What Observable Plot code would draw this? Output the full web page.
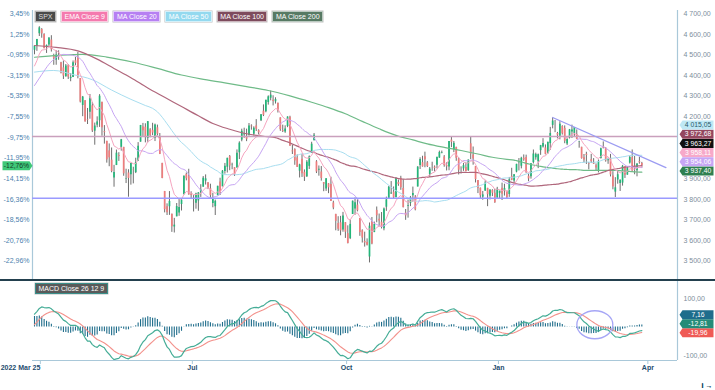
<!DOCTYPE html>
<html><head><meta charset="utf-8">
<script src="https://cdn.jsdelivr.net/npm/d3@7"></script>
<script src="https://cdn.jsdelivr.net/npm/@observablehq/plot@0.6"></script>
<style>
body{margin:0;background:#fff;font-family:"Liberation Sans",Arial,sans-serif;}
#wrap{position:relative;width:715px;height:390px;overflow:hidden;background:#fff;}
#wrap svg{position:absolute;left:0;overflow:visible;}
.legend{position:absolute;left:35px;top:10.5px;display:flex;gap:5px;}
.leg{height:9px;line-height:9px;font-size:7px;color:#fff;padding:0 2.5px;border:0.7px solid rgba(255,255,255,.6);box-shadow:0 0 0 0.5px rgba(0,0,0,.25);white-space:nowrap;}
#sep{position:absolute;left:0;top:279.3px;width:715px;height:1.5px;background:#23404e;}
</style></head><body><div id="wrap"><div id="sep"></div></div>
<script>
// ---- SPX daily candles, 2022-03-25 .. 2023-03-28 (bar index 0..252) ----
const open = [4522.9,4541.1,4602.9,4624.2,4599.0,4540.3,4548.0,4572.5,4494.2,4474.7,4494.2,4462.6,4437.6,4394.3,4449.1,4385.6,4390.6,4472.3,4489.2,4385.8,4255.3,4278.1,4186.5,4222.6,4253.8,4130.6,4159.8,4181.2,4270.4,4128.2,4081.3,4035.2,3990.1,3904.0,3963.9,4013.0,4052.0,4052.0,3899.0,3927.8,3919.4,3942.9,3929.6,3984.6,4077.4,4151.1,4149.8,4095.4,4137.6,4134.7,4096.5,4147.1,4101.7,3974.4,3838.2,3763.5,3764.1,3728.2,3665.9,3715.3,3733.9,3774.7,3821.8,3920.8,3913.0,3825.1,3786.0,3781.0,3792.6,3832.0,3858.9,3888.3,3880.9,3851.9,3779.7,3764.0,3818.0,3883.8,3860.7,3935.3,3955.5,4007.6,3965.7,3953.2,3951.4,4026.1,4087.3,4112.4,4104.2,4108.0,4154.9,4115.9,4155.9,4133.1,4181.0,4227.4,4225.0,4269.4,4290.5,4280.4,4273.1,4266.3,4195.1,4133.1,4126.6,4153.3,4198.7,4034.6,4041.3,4000.7,3936.7,3994.7,3930.9,3909.4,3959.9,4022.9,4083.7,3982.0,3940.7,3932.4,3881.0,3849.9,3875.2,3871.4,3782.4,3727.1,3682.7,3686.4,3651.9,3687.0,3633.5,3609.8,3726.5,3753.3,3772.0,3706.7,3647.5,3595.9,3590.8,3520.4,3690.4,3638.7,3746.3,3703.1,3689.1,3657.1,3762.0,3799.4,3826.0,3834.7,3808.3,3881.9,3901.8,3852.9,3733.3,3767.0,3780.7,3817.0,3810.9,3859.9,3963.7,3978.0,4006.4,3976.8,3919.3,3966.4,3956.2,3965.5,4000.3,4023.3,4005.4,3964.2,3957.2,4087.1,4040.2,4052.0,3996.6,3933.3,3947.8,3954.2,3939.3,4069.4,4015.5,3958.4,3890.9,3853.8,3810.5,3839.5,3853.3,3815.1,3843.3,3829.6,3805.5,3829.1,3853.3,3840.4,3839.7,3823.4,3910.8,3888.6,3932.4,3977.6,3960.6,3999.3,4002.3,3911.8,3909.0,3978.1,4001.7,3982.7,4036.1,4053.7,4049.3,4020.9,4070.1,4158.7,4136.7,4119.6,4105.4,4153.5,4144.3,4068.9,4096.6,4126.7,4119.5,4114.8,4077.4,4052.4,4001.8,4018.6,3973.2,3992.4,3977.2,3963.3,3938.7,3998.0,4055.2,4048.3,3987.6,3998.7,3912.8,3835.1,3894.0,3876.7,3878.9,3958.7,3917.5,3975.9,4002.0,3959.2,3939.2,3982.9,3974.1];
const high = [4546.0,4575.7,4637.3,4627.8,4603.1,4548.7,4583.5,4593.5,4503.9,4521.2,4520.4,4464.4,4471.0,4453.9,4452.8,4410.3,4471.0,4488.3,4512.9,4385.8,4299.0,4278.1,4240.7,4308.5,4269.7,4169.8,4200.1,4307.7,4270.4,4157.7,4081.3,4068.8,4049.1,3964.8,4038.9,4026.2,4090.7,4052.0,3946.0,3943.4,3975.0,3955.7,3999.3,4075.1,4158.5,4168.3,4166.5,4177.5,4142.7,4168.8,4164.9,4160.1,4119.1,3974.4,3838.2,3778.2,3837.6,3728.2,3707.7,3779.7,3801.8,3802.6,3913.7,3927.7,3945.9,3836.5,3819.0,3829.8,3832.2,3870.9,3910.6,3918.5,3880.9,3873.4,3829.4,3796.4,3863.6,3902.4,3939.8,3974.1,3999.3,4012.4,3975.3,3953.2,4039.6,4079.0,4140.2,4145.0,4140.5,4167.7,4161.3,4151.6,4186.6,4137.3,4211.0,4257.9,4280.5,4301.8,4325.3,4302.2,4292.5,4266.3,4195.1,4159.8,4156.6,4200.5,4203.0,4063.0,4045.0,4015.4,3970.2,4018.4,3942.6,3987.9,4010.5,4076.8,4119.3,3987.6,3961.9,3959.1,3881.0,3900.5,3876.0,3907.1,3790.9,3727.1,3715.7,3717.5,3736.7,3687.0,3671.4,3698.4,3791.9,3806.9,3797.9,3706.7,3652.2,3640.7,3608.3,3685.4,3712.0,3689.7,3762.8,3728.6,3736.0,3757.9,3810.7,3862.9,3886.2,3860.0,3905.4,3893.7,3911.8,3894.4,3750.6,3796.3,3813.9,3859.4,3818.2,3958.3,4001.5,4009.0,4028.8,3983.1,3954.3,3979.9,3962.0,4003.5,4033.8,4034.0,4012.3,3976.8,4080.1,4100.5,4080.5,4052.5,4001.5,3957.6,3974.2,3977.0,3990.7,4101.0,4053.8,3958.4,3890.9,3854.9,3838.2,3889.8,3853.3,3845.8,3846.7,3848.3,3858.2,3839.9,3878.5,3873.2,3839.7,3906.2,3950.6,3919.8,3970.1,3997.8,4004.0,4015.4,4014.2,3922.9,3973.0,4039.3,4023.9,4019.6,4061.6,4094.2,4063.9,4077.2,4149.0,4195.4,4182.4,4124.6,4176.5,4156.9,4156.2,4094.4,4138.9,4159.8,4148.1,4136.5,4081.5,4052.4,4017.4,4028.3,3978.3,4018.1,3997.5,3971.7,3990.8,4048.3,4078.5,4050.0,4000.4,4017.8,3934.1,3905.1,3937.3,3894.3,3964.5,3958.9,3956.6,4009.1,4039.5,4007.7,3972.7,4003.8,3979.2];
const low = [4501.1,4517.7,4589.7,4581.3,4530.4,4507.6,4539.2,4514.2,4450.0,4450.3,4474.6,4408.4,4381.3,4392.7,4381.3,4370.3,4390.6,4448.8,4384.5,4267.6,4200.8,4175.0,4162.9,4188.6,4124.3,4062.5,4147.1,4148.9,4106.0,4067.9,3975.5,3958.2,3928.8,3858.9,3963.9,3984.0,4033.9,3911.9,3876.6,3810.3,3868.9,3875.1,3925.0,3984.6,4077.4,4104.9,4073.9,4074.4,4098.7,4109.2,4080.2,4107.2,4017.2,3900.2,3734.3,3721.6,3722.3,3639.8,3636.9,3715.3,3717.7,3743.5,3821.8,3889.7,3820.1,3799.0,3738.7,3752.1,3742.1,3809.4,3858.9,3869.3,3847.2,3802.4,3759.1,3721.6,3817.2,3818.6,3860.7,3922.0,3927.6,3938.9,3943.5,3910.7,3951.4,3993.0,4079.2,4096.0,4079.8,4108.0,4135.4,4107.3,4129.0,4112.1,4177.3,4201.4,4219.8,4256.9,4277.8,4253.1,4262.0,4218.7,4129.9,4124.0,4120.0,4147.6,4057.7,4017.4,3965.2,3954.5,3903.7,3906.2,3886.8,3906.0,3944.8,4022.9,4083.7,3925.0,3912.3,3888.3,3837.1,3838.5,3827.5,3789.9,3749.4,3647.5,3644.8,3623.3,3640.6,3610.4,3584.1,3604.9,3726.5,3722.7,3739.2,3620.7,3588.1,3568.4,3573.9,3491.6,3579.7,3638.7,3686.5,3666.5,3656.4,3647.4,3741.7,3799.4,3824.1,3803.8,3808.3,3863.2,3843.8,3758.7,3698.2,3708.8,3764.7,3786.3,3744.2,3859.9,3944.8,3956.4,3953.2,3954.3,3906.5,3936.0,3933.3,3947.5,3998.7,4020.8,3955.8,3937.7,3938.6,4050.9,4026.6,3984.5,3918.4,3922.7,3935.8,3933.0,3935.3,3993.0,3965.6,3879.5,3827.9,3800.0,3795.6,3839.5,3764.5,3797.0,3813.2,3780.8,3805.5,3800.3,3794.3,3815.8,3802.4,3809.6,3890.4,3877.3,3928.5,3937.6,3947.7,3984.6,3926.6,3885.5,3897.9,3971.6,3989.8,3949.1,4013.3,4048.7,4015.6,4020.4,4037.2,4141.9,4123.4,4093.4,4088.4,4111.7,4069.7,4060.8,4092.7,4095.0,4104.0,4089.9,4048.0,3995.2,3976.9,3969.2,3943.1,3973.6,3969.0,3939.1,3928.2,3995.2,4044.6,3980.3,3969.8,3908.7,3846.3,3808.9,3873.6,3838.2,3864.1,3901.3,3916.9,3971.2,3936.2,3919.1,3909.2,3970.5,3951.5];
const close = [4543.1,4575.5,4631.6,4602.5,4530.4,4545.9,4582.6,4525.1,4481.2,4500.2,4488.3,4412.5,4397.5,4446.6,4392.6,4391.7,4462.2,4459.5,4393.7,4271.8,4296.1,4175.2,4184.0,4287.5,4131.9,4155.4,4175.5,4300.2,4146.9,4123.3,3991.2,4001.1,3935.2,3930.1,4023.9,4008.0,4088.9,3923.7,3900.8,3901.4,3973.8,3941.5,3978.7,4057.8,4158.2,4132.2,4101.2,4176.8,4108.5,4121.4,4160.7,4115.8,4017.8,3900.9,3749.6,3735.5,3790.0,3666.8,3674.8,3764.8,3759.9,3795.7,3911.7,3900.1,3821.6,3818.8,3785.4,3825.3,3831.4,3845.1,3902.6,3899.4,3854.4,3818.8,3801.8,3790.4,3863.2,3830.9,3936.7,3959.9,3999.0,3961.6,3966.8,3921.1,4023.6,4072.4,4130.3,4118.6,4091.2,4155.2,4151.9,4145.2,4140.1,4122.5,4210.2,4207.3,4280.2,4297.1,4305.2,4274.0,4283.7,4228.5,4138.0,4128.7,4140.8,4199.1,4057.7,4030.6,3986.2,3955.0,3966.9,3924.3,3908.2,3979.9,4006.2,4067.4,4110.4,3932.7,3946.0,3901.4,3873.3,3899.9,3855.9,3789.9,3758.0,3693.2,3655.0,3647.3,3719.0,3640.5,3585.6,3678.4,3790.9,3783.3,3744.5,3639.7,3612.4,3588.8,3577.0,3669.9,3583.1,3678.0,3720.0,3695.2,3665.8,3752.8,3797.3,3859.1,3830.6,3807.3,3901.1,3872.0,3856.1,3759.7,3719.9,3770.6,3806.8,3828.1,3749.0,3956.4,3992.9,3957.3,3991.7,3959.0,3946.6,3965.3,3949.9,4003.6,4027.3,4026.1,3963.9,3957.6,4080.1,4076.6,4071.7,3998.8,3941.3,3933.9,3963.5,3934.4,3990.6,4019.7,3995.3,3895.8,3852.4,3817.7,3821.6,3878.4,3822.4,3844.8,3829.3,3783.2,3849.3,3839.5,3824.1,3853.0,3808.1,3895.1,3892.1,3919.3,3969.6,3983.2,3999.1,3991.0,3928.9,3898.9,3972.6,4019.8,4017.0,4016.2,4060.4,4070.6,4017.8,4076.6,4119.2,4179.8,4136.5,4111.1,4164.0,4117.9,4081.5,4090.5,4137.3,4136.1,4147.6,4090.4,4079.1,3997.3,3991.1,4012.3,3970.0,3982.2,3970.2,3951.4,3981.4,4045.6,4048.4,3986.4,3992.0,3918.3,3861.6,3855.8,3919.3,3892.0,3960.3,3916.6,3951.6,4002.9,3937.0,3948.7,3971.0,3977.5,3963.27];

// Moving-average values for the bars before each window is full
const ma20Early  = [[0,4352],[3,4405],[6,4455],[9,4488],[12,4503],[15,4500],[18,4490]];
const ma50Early  = [[0,4417],[8,4425],[16,4405],[24,4380],[32,4330],[40,4285],[46,4255]];
const ma100Early = [[0,4546],[9,4537],[18,4520],[26,4480],[33,4435],[40,4390],[47,4340],[54,4295],[61,4250],[68,4205],[74,4168],[81,4140],[88,4118],[95,4106]];
const ma200Early = [[0,4489],[10,4498],[20,4503],[30,4490],[41,4465],[51,4435],[61,4403],[69,4384],[79,4365],[88,4347],[97,4328],[106,4302],[115,4271],[122,4245],[129,4215],[136,4178],[143,4142],[150,4110],[157,4088],[163,4069],[170,4052],[177,4037],[184,4020],[190,4004],[196,3994]];
// indicator starting values (first bar)
const ema9Start = 4447;
const ema12Start = 4420, ema26Start = 4375, signalStart = 8;

// annotations
const levels = [4105, 3805];
const trendLine = [{i:215, p:4197}, {i:262, p:3954}];
const ellipseMark = [{i:232.5, v:8}];
const basePrice = 4543.06;
const priceTicks = [3500,3600,3700,3800,3900,4000,4100,4200,4300,4400,4500,4600,4700];
const macdTicks = [100, -100];
const tickPos = [65.5, 129.5, 192.5, 254.5];
const tickLabels = ["Jul","Oct","Jan","Apr"];
const firstTickPos = [4.5], firstTickLabel = "2022 Mar 25";
const legendNames = ["SPX","EMA Close 9","MA Close 20","MA Close 50","MA Close 100","MA Close 200"];
const legendColors = ["#4a4a4a","#f47aae","#b680f2","#93d9ef","#7e4b5d","#577a64"];
const lastLabelValues = {ma50:4015.05, ma100:3972.68, spx:3963.27, ema9:3958.11, ma20:3954.06, ma200:3937.40};
const macdLabelValues = {hist:7.16, macd:-12.81, signal:-19.96};

// ---- derived series ----
const n = close.length;
const bars = d3.range(n);
function sma(k, early) {
  const out = early.map(([i, v]) => ({i, v}));
  let s = 0;
  for (let i = 0; i < n; i++) {
    s += close[i]; if (i >= k) s -= close[i - k];
    if (i >= k - 1) out.push({i, v: s / k});
  }
  return out;
}
function ema(vals, k, start) {
  const a = 2 / (k + 1); let e = start;
  return vals.map((v, i) => (e = i === 0 ? start : e + a * (v - e)));
}
const ma20 = sma(20, ma20Early), ma50 = sma(50, ma50Early), ma100 = sma(100, ma100Early), ma200 = sma(200, ma200Early);
const ema9 = ema(close, 9, ema9Start);
const e12 = ema(close, 12, ema12Start), e26 = ema(close, 26, ema26Start);
const macd = e12.map((v, i) => v - e26[i]);
const signal = ema(macd, 9, signalStart);
const hist = macd.map((v, i) => v - signal[i]);

// ---- formats ----
function fmtNum(v) {
  const [a, b] = Math.abs(v).toFixed(2).split(".");
  return (v < 0 ? "-" : "") + a.replace(/\B(?=(\d{3})+(?!\d))/g, " ") + "," + b;
}
const fmtPct = v => ((v / basePrice - 1) * 100).toFixed(2).replace(".", ",") + "%";

// ---- layout constants ----
const W = 715, ML = 32, MR = 38;
const xDomain = [-0.83, 266.8];
const yDomain = [3406.4, 4715.8], mainTop = 10, mainH = 280;
const macdDomain = [-117.5, 163.2], macdH = 110, macdBottom = 30;
const unitsPerPx = (yDomain[1] - yDomain[0]) / (mainH - mainTop);

function stack(items, gapUnits) {
  const s = items.slice().sort((a, b) => a.v - b.v);
  let prev = -Infinity;
  for (const d of s) { d.pos = Math.max(d.v, prev + gapUnits); prev = d.pos; }
  return s;
}
const tag = {draw(c) { c.moveTo(-17, 0); c.lineTo(-14, -4.5); c.lineTo(17, -4.5); c.lineTo(17, 4.5); c.lineTo(-14, 4.5); c.closePath(); }};
const tagL = {draw(c) { c.moveTo(-15, -4.5); c.lineTo(12, -4.5); c.lineTo(15, 0); c.lineTo(12, 4.5); c.lineTo(-15, 4.5); c.closePath(); }};
const ell = {draw(c) { const rx = 18, ry = 14, k = 0.5523, kx = rx * k, ky = ry * k;
  c.moveTo(rx, 0); c.bezierCurveTo(rx, ky, kx, ry, 0, ry); c.bezierCurveTo(-kx, ry, -rx, ky, -rx, 0);
  c.bezierCurveTo(-rx, -ky, -kx, -ry, 0, -ry); c.bezierCurveTo(kx, -ry, rx, -ky, rx, 0); c.closePath(); }};

const L = lastLabelValues;
const priceTags = stack([
  {v: L.ma50, bg: "#bfe8f5", fg: "#2d5a6b"},
  {v: L.ma100, bg: "#94475f", fg: "#ffffff"},
  {v: L.spx, bg: "#111111", fg: "#ffffff"},
  {v: L.ema9, bg: "#f7a9c9", fg: "#ffffff"},
  {v: L.ma20, bg: "#c7a6f5", fg: "#ffffff"},
  {v: L.ma200, bg: "#2f8050", fg: "#ffffff"}
], 9.2 * unitsPerPx);
// right-axis labels hidden behind the value tags (as in the original)
const rightTicks = priceTicks.filter(t => priceTags.every(d => Math.abs(t - d.pos) / unitsPerPx > 7.5));
const M = macdLabelValues;
const macdTags = stack([
  {v: M.hist, bg: "#1e6d8c", fg: "#ffffff"},
  {v: M.macd, bg: "#248c78", fg: "#ffffff"},
  {v: M.signal, bg: "#ef5a55", fg: "#ffffff"}
], 9 * (macdDomain[1] - macdDomain[0]) / (macdH - macdBottom));

const upC = "#22b679", dnC = "#ee7d7d";
const mainPlot = Plot.plot({
  width: W, height: mainH, marginLeft: ML, marginRight: MR, marginTop: mainTop, marginBottom: 0,
  style: {fontFamily: "Liberation Sans, Arial, sans-serif", fontSize: "7px", background: "transparent"},
  x: {domain: xDomain, axis: null},
  y: {domain: yDomain, axis: null},
  color: {type: "identity"},
  marks: [
    Plot.ruleX([xDomain[0], xDomain[1]], {stroke: "#a9c8d9", strokeWidth: 1.2}),
    Plot.axisY({anchor: "left", ticks: priceTicks, tickFormat: fmtPct, tickSize: 0, tickPadding: 3, color: "#4b7fae"}),
    Plot.axisY({anchor: "right", ticks: rightTicks, tickFormat: fmtNum, tickSize: 0, tickPadding: 6, color: "#7c8e9b"}),
    Plot.ruleX(bars, {x: i => i, y1: i => low[i], y2: i => high[i], stroke: "#5e5e5e", strokeWidth: 0.9}),
    Plot.ruleX(bars, {x: i => i, y1: i => open[i], y2: i => close[i], stroke: i => close[i] >= open[i] ? upC : dnC, strokeWidth: 1.7}),
    Plot.line(ma200, {x: "i", y: "v", stroke: "#6fbb88", strokeWidth: 1.2, curve: "monotone-x"}),
    Plot.line(ma100, {x: "i", y: "v", stroke: "#b0677c", strokeWidth: 1.2, curve: "monotone-x"}),
    Plot.line(ma50, {x: "i", y: "v", stroke: "#a8def0", strokeWidth: 1, curve: "monotone-x"}),
    Plot.line(ma20, {x: "i", y: "v", stroke: "#c6a4f3", strokeWidth: 1, curve: "monotone-x"}),
    Plot.line(bars, {x: i => i, y: i => ema9[i], stroke: "#f6a5c0", strokeWidth: 1}),
    Plot.ruleY([levels[0]], {stroke: "#c9a0bd", strokeWidth: 1.5}),
    Plot.ruleY([levels[1]], {stroke: "#9a9aff", strokeWidth: 1.5}),
    Plot.line(trendLine, {x: "i", y: "p", stroke: "#9c9cf2", strokeWidth: 1.3}),
    Plot.dot(priceTags, {y: "pos", frameAnchor: "right", dx: 19, symbol: tag, r: 5, fill: "bg", stroke: null}),
    Plot.text(priceTags, {y: "pos", frameAnchor: "right", dx: 20.5, textAnchor: "middle", text: d => fmtNum(d.v), fill: "fg", fontSize: 6.8}),
    Plot.dot([close[n - 1]], {y: d => d, frameAnchor: "left", dx: -15, symbol: tagL, r: 5, fill: "#3fc878"}),
    Plot.text([close[n - 1]], {y: d => d, frameAnchor: "left", dx: -16, textAnchor: "middle", text: fmtPct, fill: "#173a28", fontSize: 6.8})
  ]
});

const macdPlot = Plot.plot({
  width: W, height: macdH, marginLeft: ML, marginRight: MR, marginTop: 0, marginBottom: macdBottom,
  style: {fontFamily: "Liberation Sans, Arial, sans-serif", fontSize: "7px", background: "transparent"},
  x: {domain: xDomain, axis: null},
  y: {domain: macdDomain, axis: null},
  color: {type: "identity"},
  marks: [
    Plot.ruleX([xDomain[1]], {stroke: "#a9c8d9", strokeWidth: 1.2}),
    Plot.ruleY([macdDomain[0]], {stroke: "#a9c8d9", strokeWidth: 1.2}),
    Plot.axisY({anchor: "right", ticks: macdTicks, tickFormat: fmtNum, tickSize: 0, tickPadding: 6, color: "#7c8e9b"}),
    Plot.axisX({ticks: tickPos, tickFormat: (d, i) => tickLabels[i], tickSize: 4, tickPadding: 1, stroke: "#a9c8d9", fill: "#244c6e", fontWeight: "bold"}),
    Plot.axisX({ticks: firstTickPos, tickFormat: () => firstTickLabel, tickSize: 4, tickPadding: 1, stroke: "#a9c8d9", fill: "#244c6e", fontWeight: "bold", textAnchor: "end", dx: -5}),
    Plot.ruleX(bars, {x: i => i, y1: 0, y2: i => hist[i], stroke: "#1f6d8b", strokeWidth: 1.1}),
    Plot.line(bars, {x: i => i, y: i => signal[i], stroke: "#f3918b", strokeWidth: 1.1, clip: true}),
    Plot.line(bars, {x: i => i, y: i => macd[i], stroke: "#46ad97", strokeWidth: 1.2, clip: true}),
    Plot.dot(ellipseMark, {x: "i", y: "v", symbol: ell, r: 5, fill: "none", stroke: "#a6a6f6", strokeWidth: 1.3}),
    Plot.dot(macdTags, {y: "pos", frameAnchor: "right", dx: 19, symbol: tag, r: 5, fill: "bg", stroke: null}),
    Plot.text(macdTags, {y: "pos", frameAnchor: "right", dx: 20.5, textAnchor: "middle", text: d => fmtNum(d.v), fill: "fg", fontSize: 6.8})
  ]
});

const wrap = document.getElementById("wrap");
mainPlot.style.top = "0px";
macdPlot.style.top = "280px";
wrap.appendChild(mainPlot);
wrap.appendChild(macdPlot);
wrap.appendChild(document.getElementById("sep"));

const leg = document.createElement("div"); leg.className = "legend";
legendNames.forEach((t, k) => { const b = document.createElement("div"); b.className = "leg"; b.textContent = t; b.style.background = legendColors[k]; if (k === 0) b.style.color = "#ddd"; leg.appendChild(b); });
wrap.appendChild(leg);
const ml = document.createElement("div"); ml.className = "leg";
ml.style.cssText = "position:absolute;left:35px;top:283px;background:#5a5a5a;border-color:#3a8f8a;";
ml.textContent = "MACD Close 26 12 9"; wrap.appendChild(ml);
</script></body></html>
